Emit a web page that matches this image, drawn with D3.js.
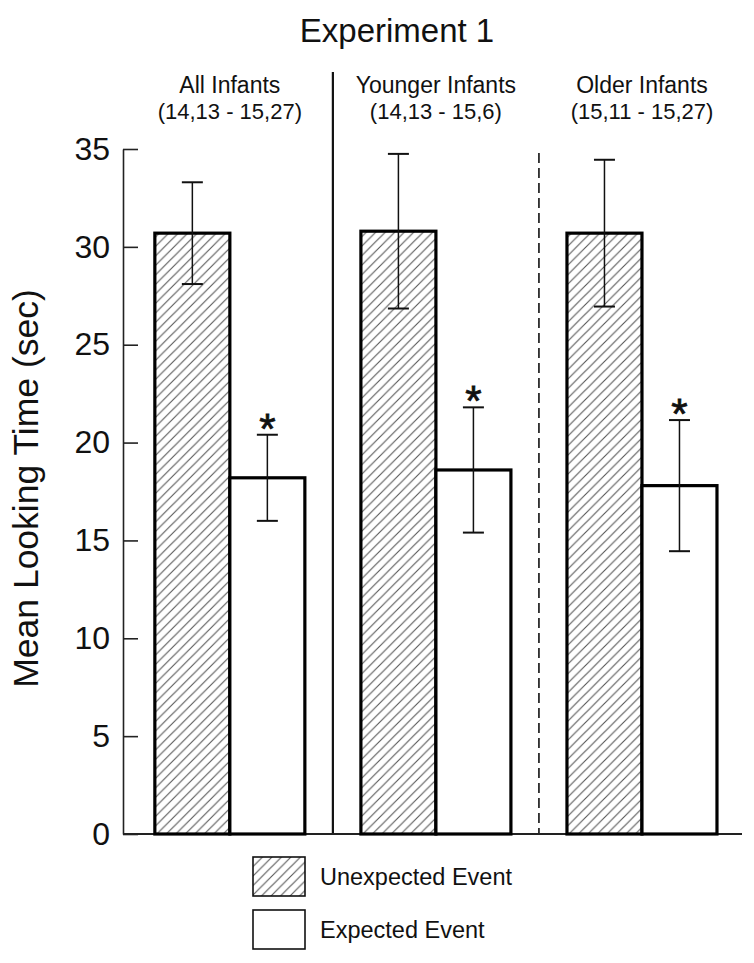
<!DOCTYPE html>
<html>
<head>
<meta charset="utf-8">
<script src="https://cdn.jsdelivr.net/npm/d3@7"></script>
<style>
  html, body { margin: 0; padding: 0; background: #fff; }
  svg text { font-family: "Liberation Sans", Arial, Helvetica, sans-serif; fill: #111; }
</style>
</head>
<body>
<svg id="chart" width="754" height="963"></svg>
<script>
// ---- data ----
const groups = ["All Infants", "Younger Infants", "Older Infants"];
const groupSubtitles = ["(14,13 - 15,27)", "(14,13 - 15,6)", "(15,11 - 15,27)"];
const conditions = ["Unexpected Event", "Expected Event"];
const unexpectedMeans = [30.7, 30.8, 30.7];
const unexpectedErr = [2.6, 3.95, 3.75];
const expectedMeans = [18.2, 18.6, 17.8];
const expectedErr = [2.2, 3.2, 3.35];
const significant = [true, true, true];
const yTicks = [0, 5, 10, 15, 20, 25, 30, 35];
const title = "Experiment 1";
const yLabel = "Mean Looking Time (sec)";

// ---- layout ----
const W = 754, H = 963;
const plot = { left: 123, right: 742, top: 149, bottom: 834 };
const svg = d3.select("#chart");

const defs = svg.append("defs");
const pat = defs.append("pattern")
  .attr("id", "hatch").attr("patternUnits", "userSpaceOnUse")
  .attr("width", 9.5).attr("height", 9.5);
pat.append("path")
  .attr("d", "M-1,1 l2,-2 M0,9.5 l9.5,-9.5 M8.5,10.5 l2,-2")
  .attr("stroke", "#555").attr("stroke-width", 1.1).attr("fill", "none");

const y = d3.scaleLinear().domain([0, 35]).range([plot.bottom, plot.top]);
const x = d3.scaleBand().domain(groups).range([plot.left, plot.right])
  .paddingInner(0.272).paddingOuter(0.138).align(0.56);
const xs = d3.scaleBand().domain(conditions).range([0, x.bandwidth()]).padding(0);

const rows = groups.map((g, i) => ({
  group: g,
  bars: [
    { cond: conditions[0], mean: unexpectedMeans[i], err: unexpectedErr[i], sig: false },
    { cond: conditions[1], mean: expectedMeans[i], err: expectedErr[i], sig: significant[i] }
  ]
}));

// title
svg.append("text").attr("x", 397).attr("y", 42)
  .attr("text-anchor", "middle").attr("font-size", 33).text(title);

// group labels
groups.forEach((g, i) => {
  const cx = x(g) + x.bandwidth() / 2;
  svg.append("text").attr("x", cx).attr("y", 93).attr("text-anchor", "middle")
    .attr("font-size", 23).text(g);
  svg.append("text").attr("x", cx).attr("y", 119).attr("text-anchor", "middle")
    .attr("font-size", 22).text(groupSubtitles[i]);
});

// dividers
const gap = x.step() - x.bandwidth();
groups.slice(0, -1).forEach((g, i) => {
  const dx = x(g) + x.bandwidth() + gap / 2;
  svg.append("line")
    .attr("x1", dx).attr("x2", dx)
    .attr("y1", i === 0 ? 72 : y(35) + 4).attr("y2", plot.bottom)
    .attr("stroke", "#111").attr("stroke-width", i === 0 ? 2.2 : 1.6)
    .attr("stroke-dasharray", i === 0 ? null : "10,5");
});

// y axis
const yAxis = d3.axisLeft(y).tickValues(yTicks).tickSizeInner(-15).tickSizeOuter(0).tickPadding(13);
const ga = svg.append("g").attr("transform", `translate(${plot.left},0)`).call(yAxis);
ga.select(".domain").attr("stroke", "#222").attr("stroke-width", 1.6);
ga.selectAll(".tick line").attr("stroke", "#222").attr("stroke-width", 1.6);
ga.selectAll(".tick text").attr("font-size", 32).attr("fill", "#111")
  .attr("font-family", "Liberation Sans, Arial, sans-serif");

// baseline
svg.append("line").attr("x1", plot.left).attr("x2", plot.right)
  .attr("y1", y(0)).attr("y2", y(0)).attr("stroke", "#222").attr("stroke-width", 2.2);

// bars
const gg = svg.selectAll("g.grp").data(rows).join("g").attr("class", "grp")
  .attr("transform", d => `translate(${x(d.group)},0)`);

gg.selectAll("rect.bar").data(d => d.bars).join("rect").attr("class", "bar")
  .attr("x", d => xs(d.cond)).attr("width", xs.bandwidth())
  .attr("y", d => y(d.mean)).attr("height", d => y(0) - y(d.mean))
  .attr("fill", d => d.cond === conditions[0] ? "url(#hatch)" : "#fff")
  .attr("stroke", "#000").attr("stroke-width", 3.2);

// error bars
const capW = 21;
const eb = gg.selectAll("g.err").data(d => d.bars).join("g").attr("class", "err")
  .attr("transform", d => `translate(${xs(d.cond) + xs.bandwidth() / 2},0)`);
eb.append("line").attr("x1", 0).attr("x2", 0)
  .attr("y1", d => y(d.mean + d.err)).attr("y2", d => y(d.mean - d.err))
  .attr("stroke", "#111").attr("stroke-width", 1.5);
eb.append("line").attr("x1", -capW / 2).attr("x2", capW / 2)
  .attr("y1", d => y(d.mean + d.err)).attr("y2", d => y(d.mean + d.err))
  .attr("stroke", "#111").attr("stroke-width", 2);
eb.append("line").attr("x1", -capW / 2).attr("x2", capW / 2)
  .attr("y1", d => y(d.mean - d.err)).attr("y2", d => y(d.mean - d.err))
  .attr("stroke", "#111").attr("stroke-width", 2);
eb.filter(d => d.sig).append("text")
  .attr("x", 0).attr("y", d => y(d.mean + d.err) + 8)
  .attr("text-anchor", "middle").attr("font-size", 42)
  .attr("stroke", "#111").attr("stroke-width", 0.8)
  .text("*");

// y label
svg.append("text").attr("transform", `translate(38,${(plot.top + plot.bottom) / 2 - 3}) rotate(-90)`)
  .attr("text-anchor", "middle").attr("font-size", 35.5).text(yLabel);

// legend
const legend = svg.append("g").attr("transform", "translate(253,857)");
conditions.forEach((c, i) => {
  const row = legend.append("g").attr("transform", `translate(0,${i * 53})`);
  row.append("rect").attr("x", 0).attr("y", 0).attr("width", 52).attr("height", 39)
    .attr("fill", i === 0 ? "url(#hatch)" : "#fff").attr("stroke", "#111").attr("stroke-width", 1.6);
  row.append("text").attr("x", 67).attr("y", 28).attr("font-size", 23.5).text(c);
});
</script>
</body>
</html>
